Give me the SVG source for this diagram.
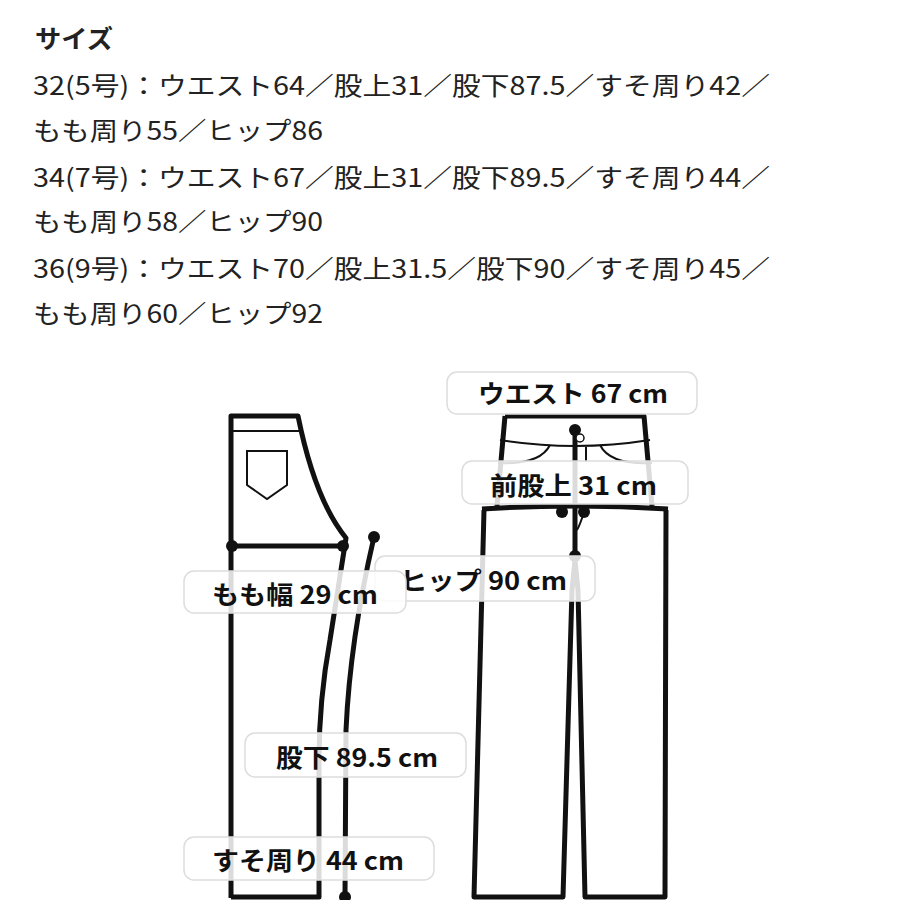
<svg xmlns="http://www.w3.org/2000/svg" width="900" height="900" viewBox="0 0 900 900">
<style>
.t{font-family:"Noto Sans CJK JP","Liberation Sans",sans-serif;font-size:25px;fill:#222}
.h{font-weight:bold}
.o{fill:none;stroke:#111;stroke-width:5;stroke-linejoin:round}
.n{fill:none;stroke:#111;stroke-width:2}
.lb rect{fill:#fff;fill-opacity:0.85;stroke:#ddd;stroke-width:1.5}
.lb text{font-family:"Noto Sans CJK JP","Liberation Sans",sans-serif;font-size:25px;font-weight:bold;fill:#111}
.d{fill:#111}
</style>
<rect width="900" height="900" fill="#fff"/>
<g id="sizes">
<text class="t h" x="35" y="48" font-size="23" textLength="78" lengthAdjust="spacingAndGlyphs">サイズ</text>
<text class="t" x="33" y="95" textLength="737" lengthAdjust="spacingAndGlyphs">32(5号)：ウエスト64／股上31／股下87.5／すそ周り42／</text>
<text class="t" x="33" y="140" textLength="290" lengthAdjust="spacingAndGlyphs">もも周り55／ヒップ86</text>
<text class="t" x="33" y="187" textLength="737" lengthAdjust="spacingAndGlyphs">34(7号)：ウエスト67／股上31／股下89.5／すそ周り44／</text>
<text class="t" x="33" y="231" textLength="290" lengthAdjust="spacingAndGlyphs">もも周り58／ヒップ90</text>
<text class="t" x="33" y="278" textLength="737" lengthAdjust="spacingAndGlyphs">36(9号)：ウエスト70／股上31.5／股下90／すそ周り45／</text>
<text class="t" x="33" y="323" textLength="290" lengthAdjust="spacingAndGlyphs">もも周り60／ヒップ92</text>
</g>
<g id="side-view">
<path class="o" d="M231,898 L231,416 L298,416 Q315,500 346,538 L330,640 Q319,700 319,760 L319,897 L231,897"/>
<line class="n" x1="231" y1="431" x2="299" y2="431"/>
<path class="n" d="M247,451 L287,451 L287,485 L267,499 L247,485 Z"/>
</g>
<g id="front-view">
<path class="o" d="M505,416 L644,416 L652,506"/>
<path class="o" d="M505,416 L497,506"/>
<path class="o" d="M482,509 Q575,503 668,509"/>
<path class="o" d="M484,510 L474,897 L563,897 L572,590 L575,560 L578,590 L585,897 L665,897 L666,510"/>
<path class="n" d="M500,440 Q575,452 650,440"/>
<path class="n" d="M550,445 Q540,465 498,463"/>
<path class="n" d="M600,445 Q610,465 652,463"/>
<line class="n" x1="586" y1="447" x2="586" y2="462"/>
<line class="o" x1="575" y1="430" x2="575" y2="556" stroke-width="4"/>
<path class="n" d="M584,512 Q580,525 577,530"/>
</g>
<g id="connectors">
<line class="o" x1="232" y1="546" x2="343" y2="546" stroke-width="4"/>
<path class="o" d="M374,537 Q350,640 346,730 L345,897" stroke-width="4"/>
<circle class="d" cx="232" cy="546" r="6"/>
<circle class="d" cx="343" cy="546" r="6"/>
<circle class="d" cx="374" cy="537" r="6"/>
<circle class="d" cx="345" cy="897" r="6"/>
<circle class="d" cx="575" cy="430" r="6"/>
<circle cx="580" cy="438" r="4" fill="#fff" stroke="#111" stroke-width="1.5"/>
<circle class="d" cx="562" cy="512" r="6"/>
<circle class="d" cx="584" cy="512" r="6"/>
<circle class="d" cx="575" cy="556" r="6"/>
</g>
<g id="label-waist" class="lb"><rect x="447" y="372" width="250" height="42" rx="10"/><text x="478" y="403" textLength="190" lengthAdjust="spacingAndGlyphs">ウエスト 67 cm</text></g>
<g id="label-rise" class="lb"><rect x="462" y="461" width="226" height="43" rx="10"/><text x="490" y="495" textLength="167" lengthAdjust="spacingAndGlyphs">前股上 31 cm</text></g>
<g id="label-hip" class="lb"><rect x="375" y="556" width="220" height="45" rx="10"/><text x="400" y="590" textLength="167" lengthAdjust="spacingAndGlyphs">ヒップ 90 cm</text></g>
<g id="label-thigh" class="lb"><rect x="184" y="571" width="222" height="42" rx="10"/><text x="212" y="604" textLength="166" lengthAdjust="spacingAndGlyphs">もも幅 29 cm</text></g>
<g id="label-inseam" class="lb"><rect x="245" y="733" width="221" height="44" rx="10"/><text x="276" y="767" textLength="162" lengthAdjust="spacingAndGlyphs">股下 89.5 cm</text></g>
<g id="label-hem" class="lb"><rect x="184" y="837" width="250" height="43" rx="10"/><text x="212" y="870" textLength="192" lengthAdjust="spacingAndGlyphs">すそ周り 44 cm</text></g>
</svg>
